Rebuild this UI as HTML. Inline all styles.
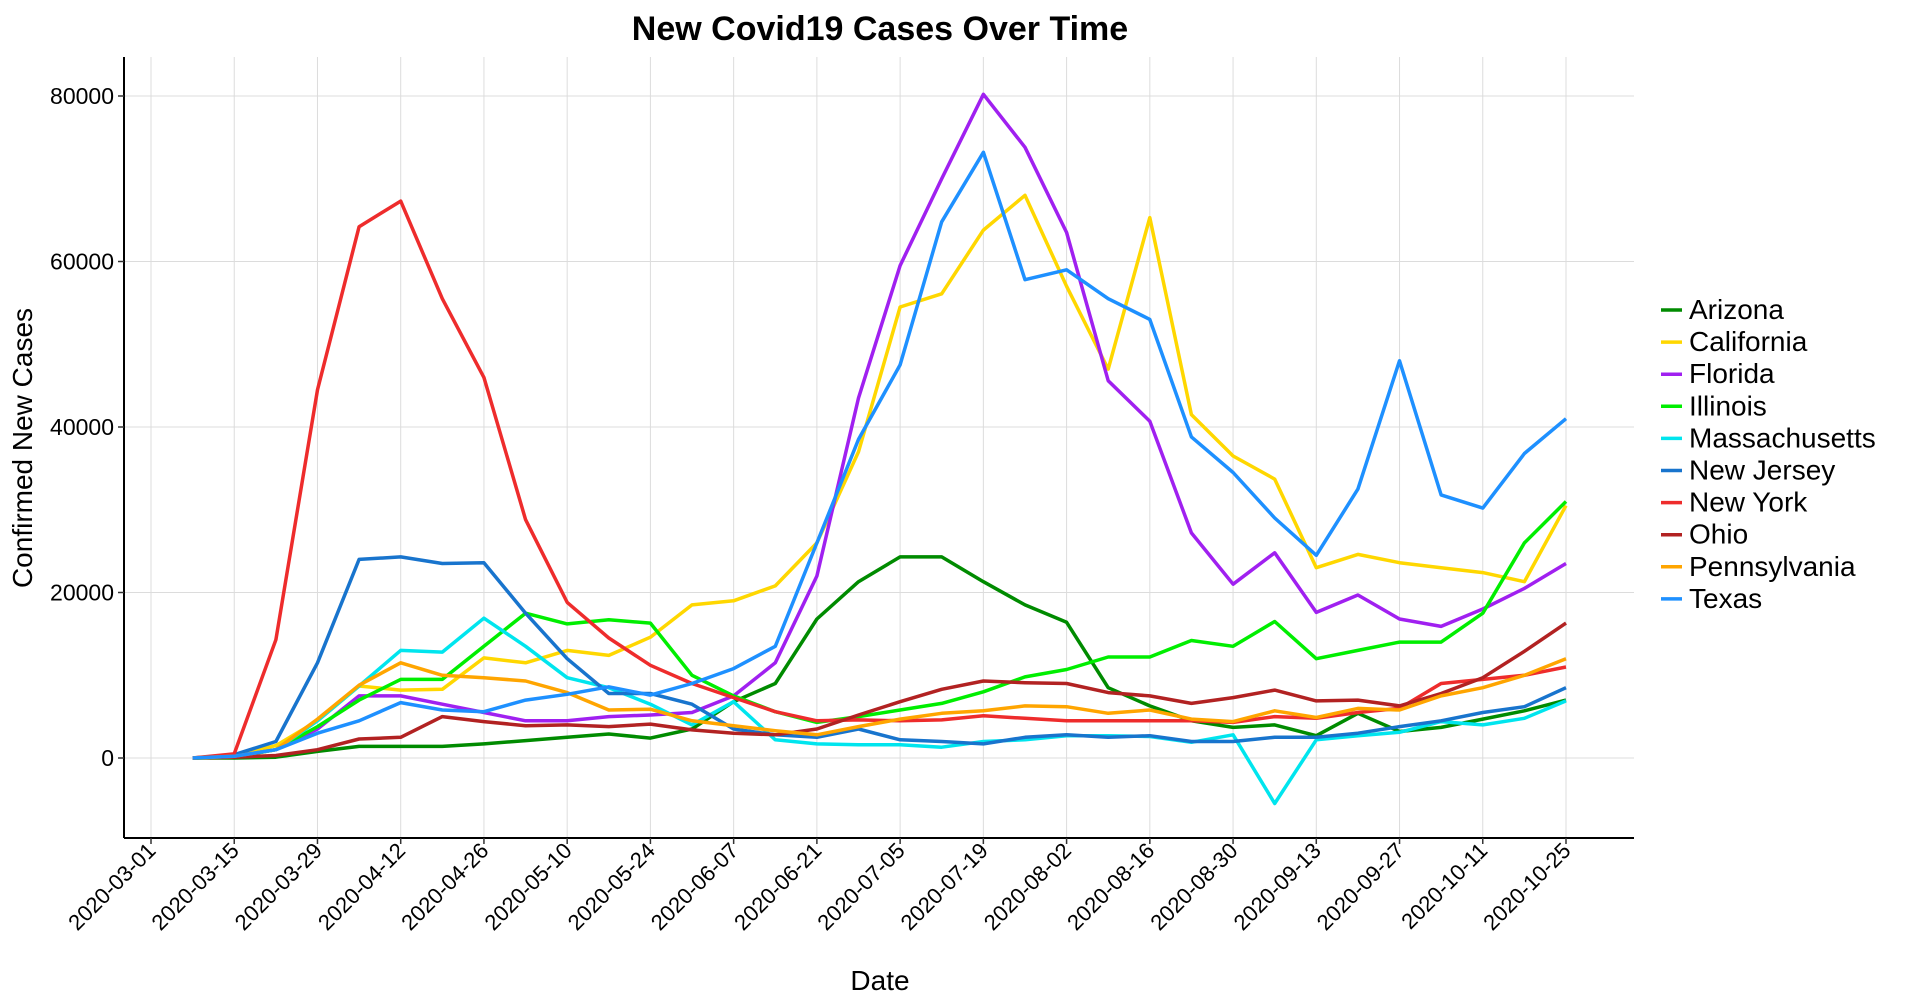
<!DOCTYPE html>
<html><head><meta charset="utf-8"><style>
body{margin:0;background:#fff;font-family:"Liberation Sans",Arial,sans-serif}
svg text{font-family:"Liberation Sans",Arial,sans-serif}
</style></head><body>
<svg id="chart" width="1908" height="1000" viewBox="0 0 1908 1000" xmlns="http://www.w3.org/2000/svg">
<text x="880" y="40" text-anchor="middle" font-size="34" font-weight="bold">New Covid19 Cases Over Time</text>
<g id="grid"></g>
<g id="series"></g>
<line x1="124" y1="57" x2="124" y2="838" stroke="#000" stroke-width="2"/>
<line x1="124" y1="838" x2="1634" y2="838" stroke="#000" stroke-width="2"/>
<g id="yticks"></g>
<g id="xticks"></g>
<text transform="translate(32,448) rotate(-90)" text-anchor="middle" font-size="28">Confirmed New Cases</text>
<text x="880" y="990" text-anchor="middle" font-size="28">Date</text>
<g id="legend"></g>
</svg>
<script>
const seriesNames=["Arizona","California","Florida","Illinois","Massachusetts","New Jersey","New York","Ohio","Pennsylvania","Texas"];
const seriesColors=["#008B00","#FFD700","#A020F0","#00EE00","#00E5EE","#1874CD","#EE2C2C","#B22222","#FFA500","#1E90FF"];
const xTickLabels=["2020-03-01","2020-03-15","2020-03-29","2020-04-12","2020-04-26","2020-05-10","2020-05-24","2020-06-07","2020-06-21","2020-07-05","2020-07-19","2020-08-02","2020-08-16","2020-08-30","2020-09-13","2020-09-27","2020-10-11","2020-10-25"];
const yTicks=[0,20000,40000,60000,80000];
const arizona=[0,0,100,800,1400,1400,1400,1700,2100,2500,2900,2400,3500,6800,9000,16800,21300,24300,24300,21300,18500,16400,8500,6300,4500,3700,4000,2700,5400,3200,3700,4700,5700,7000];
const california=[0,300,1500,4500,8700,8200,8300,12100,11500,13000,12400,14600,18500,19000,20800,26000,37000,54500,56100,63800,68000,57000,47000,65300,41500,36500,33700,23000,24600,23600,23000,22400,21300,30500];
const florida=[0,200,1000,3500,7500,7500,6500,5500,4500,4500,5000,5200,5500,7500,11500,22000,43500,59500,70000,80200,73800,63500,45600,40700,27200,21000,24800,17600,19700,16800,15900,18000,20500,23500];
const illinois=[0,100,1000,3800,7000,9500,9500,13500,17500,16200,16700,16300,10000,7500,5600,4300,5000,5800,6600,8000,9800,10700,12200,12200,14200,13500,16500,12000,13000,14000,14000,17500,26000,31000];
const massachusetts=[0,200,1000,4500,8700,13000,12800,16900,13500,9700,8500,6500,4000,6800,2200,1700,1600,1600,1300,2000,2200,2700,2700,2600,1900,2800,-5500,2200,2700,3100,4400,4000,4800,6900];
const newJersey=[0,400,2000,11500,24000,24300,23500,23600,17500,12000,7800,7800,6500,3500,2800,2500,3500,2200,2000,1700,2500,2800,2500,2700,2000,2000,2500,2500,3000,3800,4500,5500,6200,8500];
const newYork=[0,500,14300,44500,64200,67300,55500,46000,28800,18800,14500,11200,9000,7300,5600,4500,4600,4500,4600,5100,4800,4500,4500,4500,4500,4300,5000,4800,5500,6000,9000,9500,10000,11000];
const ohio=[0,100,300,1000,2300,2500,5000,4400,3900,4000,3800,4100,3400,3000,2800,3500,5200,6800,8300,9300,9100,9000,7900,7500,6600,7300,8200,6900,7000,6300,7800,9700,12900,16300];
const pennsylvania=[0,200,1000,4700,8800,11500,10000,9700,9300,7900,5800,5900,4500,3900,3300,2800,3800,4700,5400,5700,6300,6200,5400,5800,4700,4400,5700,4900,6000,5800,7500,8500,10000,12000];
const texas=[0,200,1000,3000,4500,6700,5800,5600,7000,7700,8600,7600,9000,10800,13500,26000,38500,47500,64800,73200,57800,59000,55500,53000,38800,34500,29000,24500,32500,48000,31800,30200,36800,41000];
const allSeries=[arizona,california,florida,illinois,massachusetts,newJersey,newYork,ohio,pennsylvania,texas];

const NS="http://www.w3.org/2000/svg";
const X0=151,X1=1566,DAYS=238;
const xDay=d=>X0+(X1-X0)*d/DAYS;
const yv=v=>758-(758-96)*v/80000;
function mk(tag,attrs,parent){const e=document.createElementNS(NS,tag);for(const k in attrs)e.setAttribute(k,attrs[k]);parent.appendChild(e);return e;}
const grid=document.getElementById('grid'),yt=document.getElementById('yticks'),xt=document.getElementById('xticks');
yTicks.forEach(v=>{
  const l=mk('line',{x1:124,x2:1634,y1:yv(v),y2:yv(v),stroke:'#dcdcdc','stroke-width':1},grid);
  
  
  const t=mk('line',{x1:118,x2:124,y1:yv(v),y2:yv(v),stroke:'#333','stroke-width':1.5},yt);
  
  
  const tx=mk('text',{x:114,y:yv(v)+8,'text-anchor':'end','font-size':23},yt);
  tx.textContent=v;
  
  
});
xTickLabels.forEach((lab,i)=>{
  const x=xDay(i*14);
  const l=mk('line',{x1:x,x2:x,y1:57,y2:838,stroke:'#dcdcdc','stroke-width':1},grid);
  
  
  const t=mk('line',{x1:x,x2:x,y1:838,y2:844,stroke:'#333','stroke-width':1.5},xt);
  
  
  const tx=mk('text',{x:x+6,y:852,'text-anchor':'end','font-size':22,transform:`rotate(-45 ${x+6} 852)`},xt);
  tx.textContent=lab;
  
  
});
const sg=document.getElementById('series'),lg=document.getElementById('legend');
allSeries.forEach((s,k)=>{
  const pts=s.map((v,i)=>xDay(7+7*i).toFixed(1)+','+yv(v).toFixed(1)).join(' ');
  const p=mk('polyline',{points:pts,fill:'none',stroke:seriesColors[k],'stroke-width':3.5,'stroke-linejoin':'round'},sg);
  
  
  const y=310+32.1*k;
  const g=mk('g',{},lg);
  
  
  mk('line',{x1:1661,x2:1682,y1:y,y2:y,stroke:seriesColors[k],'stroke-width':3.5},g);
  const t=mk('text',{x:1689,y:y+9,'font-size':28},g);
  t.textContent=seriesNames[k];
});
</script>
</body></html>
